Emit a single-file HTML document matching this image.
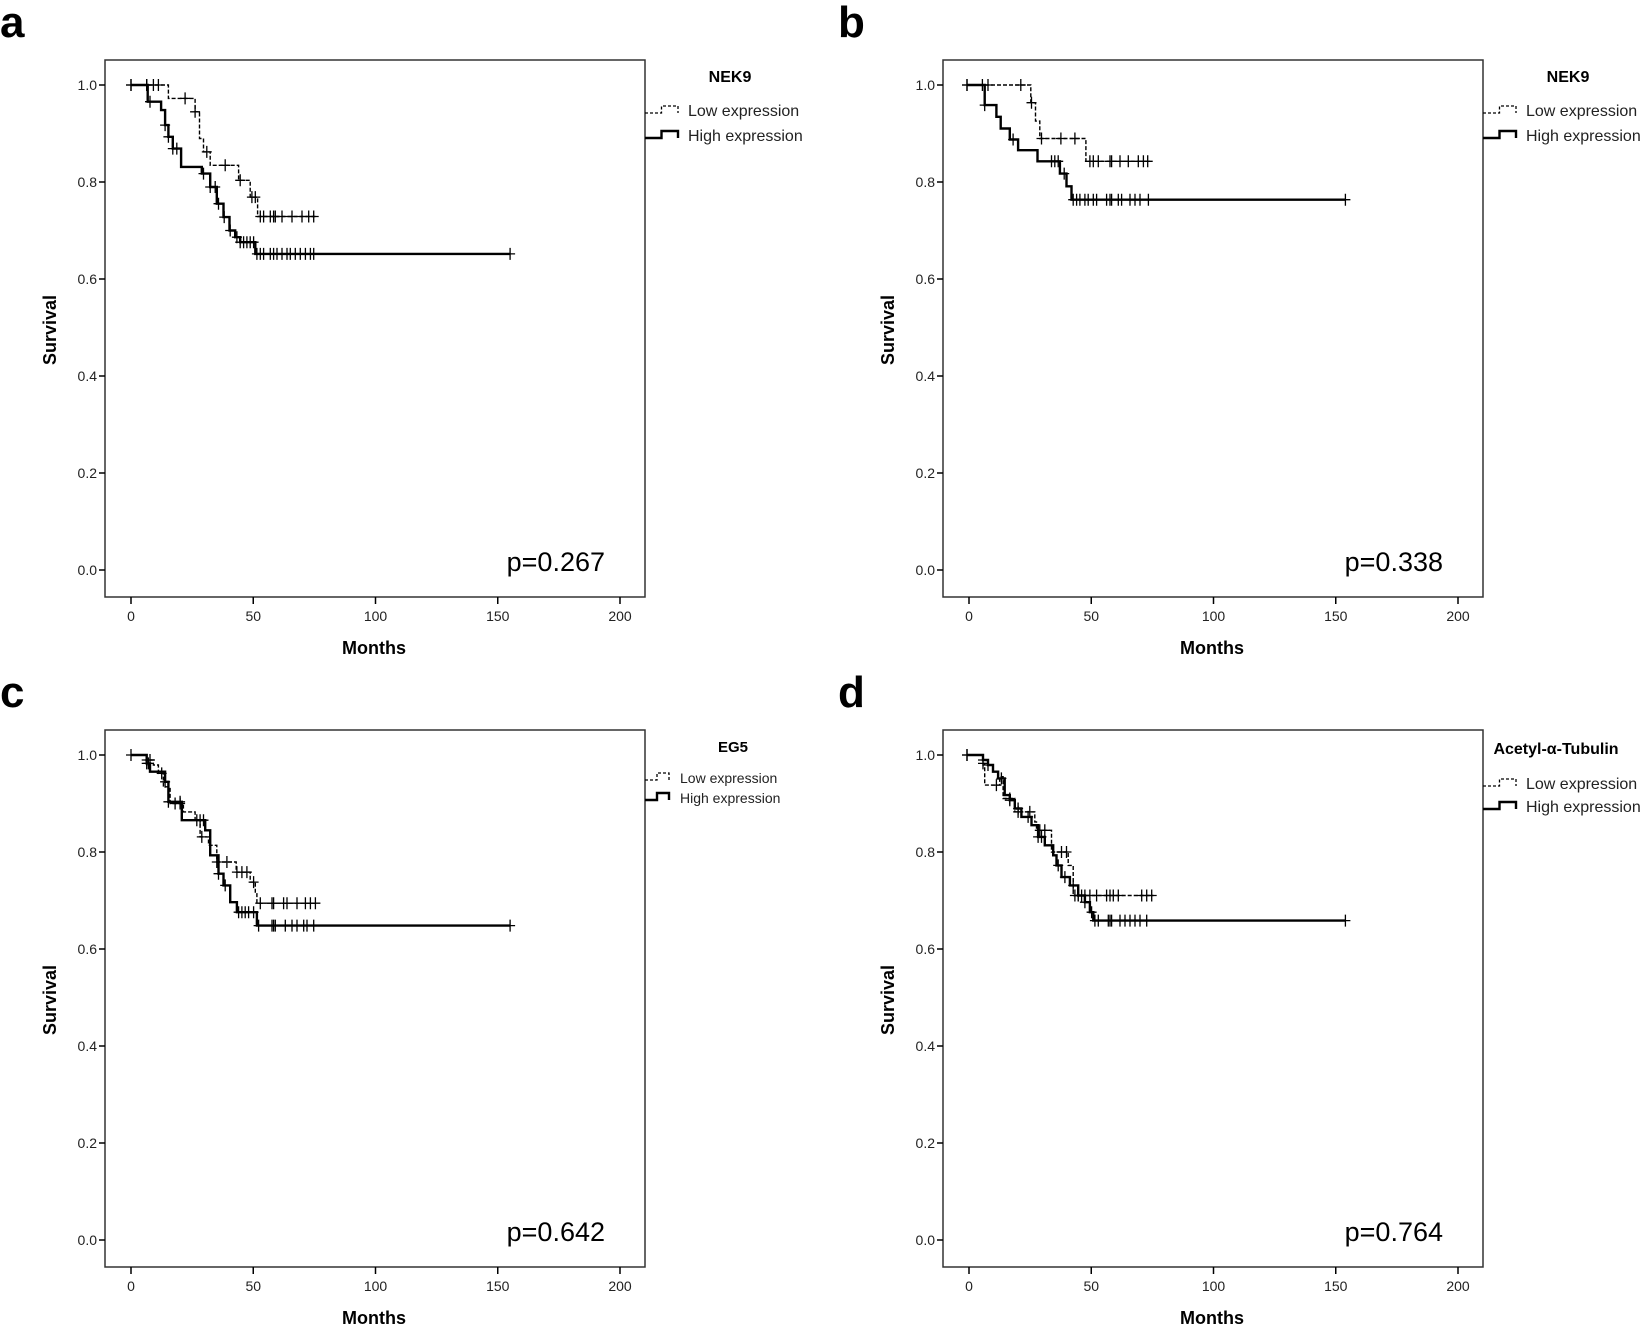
<!DOCTYPE html>
<html><head><meta charset="utf-8"><style>
html,body{margin:0;padding:0;background:#fff;}
svg{display:block;}
text{font-family:"Liberation Sans",sans-serif;}
</style></head><body>
<svg id="s" width="1652" height="1330" xmlns="http://www.w3.org/2000/svg"></svg>
<script>
const S=document.getElementById('s');
let out='';
function zx(X){return (X-93)/7.32;}
function zy(Y){return 1-(Y-75)/1450;}
// step data from crop coords: [x,y] pairs: start, then list of [Xdrop, Ynew], end X
const panels=[
 {dx:0,dy:0,letter:'a',title:'NEK9',p:'p=0.267',bx:0,small:false,
  high:{st:[[143,125],[183,150],[195,195],[205,230],[218,265],[243,320],[305,340],[330,380],[350,430],[370,470],[388,510],[405,530],[420,545],[465,580]],end:1228,
   c:[93,140,150,195,205,218,230,310,330,345,355,372,390,410,420,430,440,450,460,470,480,490,510,520,530,545,560,570,585,600,615,630,640,1228]},
  low:{st:[[205,115],[285,155],[298,235],[310,275],[330,315],[415,360],[450,410],[472,468]],end:645,
   c:[93,140,160,175,255,285,320,375,420,455,465,480,490,510,520,525,545,575,605,625,640]}},
 {dx:838,dy:0,letter:'b',title:'NEK9',p:'p=0.338',bx:6,small:false,
  high:{st:[[140,135],[175,170],[188,205],[215,238],[240,270],[298,303],[365,340],[385,378],[400,418]],end:1220,
   c:[87,140,225,340,350,360,378,405,415,425,440,450,465,475,505,515,520,540,550,575,590,605,630,1220]},
  low:{st:[[278,128],[292,183],[305,235],[443,303]],end:635,
   c:[87,133,150,248,280,310,368,410,455,465,480,515,520,545,570,600,615,628]}},
 {dx:0,dy:670,letter:'c',title:'EG5',p:'p=0.642',bx:0,small:true,
  high:{st:[[140,100],[150,125],[195,155],[205,215],[245,270],[315,300],[330,345],[330,375],[355,430],[370,465],[390,515],[410,545],[470,585]],end:1228,
   c:[93,140,145,195,205,240,300,310,355,375,415,425,435,445,460,475,515,520,525,555,575,590,610,620,640,1228]},
  low:{st:[[140,90],[160,105],[175,130],[190,170],[210,220],[250,245],[285,270],[300,320],[325,345],[350,395],[408,425],[450,455],[465,490],[470,518]],end:645,
   c:[140,150,185,225,240,290,305,350,380,410,425,440,460,480,515,520,550,560,590,615,630,645]}},
 {dx:838,dy:670,letter:'d',title:'Acetyl-\u03b1-Tubulin',p:'p=0.764',bx:6,small:false,
  high:{st:[[135,90],[150,105],[165,125],[180,145],[200,195],[215,210],[230,235],[250,260],[280,285],[300,320],[320,345],[345,375],[355,405],[370,440],[395,465],[420,495],[440,515],[455,545],[465,570]],end:1220,
   c:[87,135,150,190,215,240,270,300,310,360,380,405,420,440,460,470,480,510,515,520,545,560,575,590,605,625,1220]},
  low:{st:[[135,100],[140,165],[185,140],[195,205],[230,245],[290,275],[295,300],[340,365],[390,405],[405,440],[405,495]],end:645,
   c:[87,135,175,215,240,275,305,320,370,385,410,420,430,440,455,475,505,515,525,540,610,625,640]}}
];
function P(m,s,pn){return [131+pn.dx+m*2.445, 570+pn.dy-(s)*485];}
function curve(pn,d,dash,w){
 let pts=[];let X0=pn.bx? 87:93; let x=zx(X0),y=1;
 pts.push(P(x,y,pn));
 for(const [X,Y] of d.st){const m=zx(X);pts.push(P(m,y,pn));y=zy(Y);pts.push(P(m,y,pn));}
 pts.push(P(zx(d.end),y,pn));
 out+=`<polyline fill="none" stroke="#000" stroke-width="${w}" ${dash?'stroke-dasharray="4,2"':''} points="${pts.map(p=>p[0].toFixed(1)+','+p[1].toFixed(1)).join(' ')}"/>`;
 // censor marks: find y at each X
 for(const X of d.c){const m=zx(X);let yy=1;for(const [XX,YY] of d.st){if(zx(XX)<=m+0.01)yy=zy(YY);}
  const [px,py]=P(m,yy,pn);
  out+=`<path d="M${(px-5).toFixed(1)},${py.toFixed(1)}h10M${px.toFixed(1)},${(py-6).toFixed(1)}v12" stroke="#000" stroke-width="1.3"/>`;}
}
for(const pn of panels){
 const L=105+pn.dx,T=60+pn.dy,R=645+pn.dx,B=597+pn.dy;
 out+=`<text x="${pn.dx}" y="${pn.dy+37}" font-size="44" font-weight="bold">${pn.letter}</text>`;
 out+=`<rect x="${L}" y="${T}" width="${R-L}" height="${B-T}" fill="none" stroke="#333" stroke-width="1.5"/>`;
 for(let i=0;i<=5;i++){const y=570+pn.dy-i*0.2*485;
  out+=`<line x1="${L-6}" x2="${L}" y1="${y}" y2="${y}" stroke="#000" stroke-width="1.5"/>`;
  out+=`<text x="${L-8}" y="${y+5}" font-size="14" text-anchor="end" fill="#222">${(i*0.2).toFixed(1)}</text>`;}
 for(let i=0;i<=4;i++){const x=131+pn.dx+i*50*2.445;
  out+=`<line x1="${x}" x2="${x}" y1="${B}" y2="${B+7}" stroke="#000" stroke-width="1.5"/>`;
  out+=`<text x="${x}" y="${B+24}" font-size="14" text-anchor="middle" fill="#222">${i*50}</text>`;}
 out+=`<text x="${374+pn.dx}" y="${654+pn.dy}" font-size="18" font-weight="bold" text-anchor="middle">Months</text>`;
 out+=`<text transform="translate(${56+pn.dx},${330+pn.dy}) rotate(-90)" font-size="18" font-weight="bold" text-anchor="middle">Survival</text>`;
 out+=`<text x="${605+pn.dx}" y="${571+pn.dy}" font-size="27" text-anchor="end">${pn.p}</text>`;
 // legend
 const fs=pn.small?14:16, y1=pn.small?777:(pn.dy?783:110), y2=pn.small?797:(pn.dy?806:135), ty=pn.small?752:(pn.dy?754:82);
 const tx=pn.small?733+pn.dx:(pn.letter=='d'?1556:730+pn.dx);
 const lx=R, ly1=pn.small?y1:y1+pn.dy*0, ly2=y2;
 out+=`<text x="${tx}" y="${ty}" font-size="${pn.small?15:16}" font-weight="bold" text-anchor="middle">${pn.title}</text>`;
 const tX=pn.small?680+pn.dx:688+pn.dx;
 const w=pn.small?24:33;
 out+=`<path d="M${lx},${ly1+3}h${w*0.5}v-7h${w*0.5}v7" fill="none" stroke="#000" stroke-width="1.3" stroke-dasharray="3,2"/>`;
 out+=`<path d="M${lx},${ly2+3}h${w*0.5}v-7h${w*0.5}v7" fill="none" stroke="#000" stroke-width="2.4"/>`;
 out+=`<text x="${tX}" y="${ly1+6}" font-size="${fs}" fill="#222">Low expression</text>`;
 out+=`<text x="${tX}" y="${ly2+6}" font-size="${fs}" fill="#222">High expression</text>`;
 curve(pn,pn.low,true,1.4);
 curve(pn,pn.high,false,2.4);
}
S.innerHTML=out;
</script>
</body></html>
